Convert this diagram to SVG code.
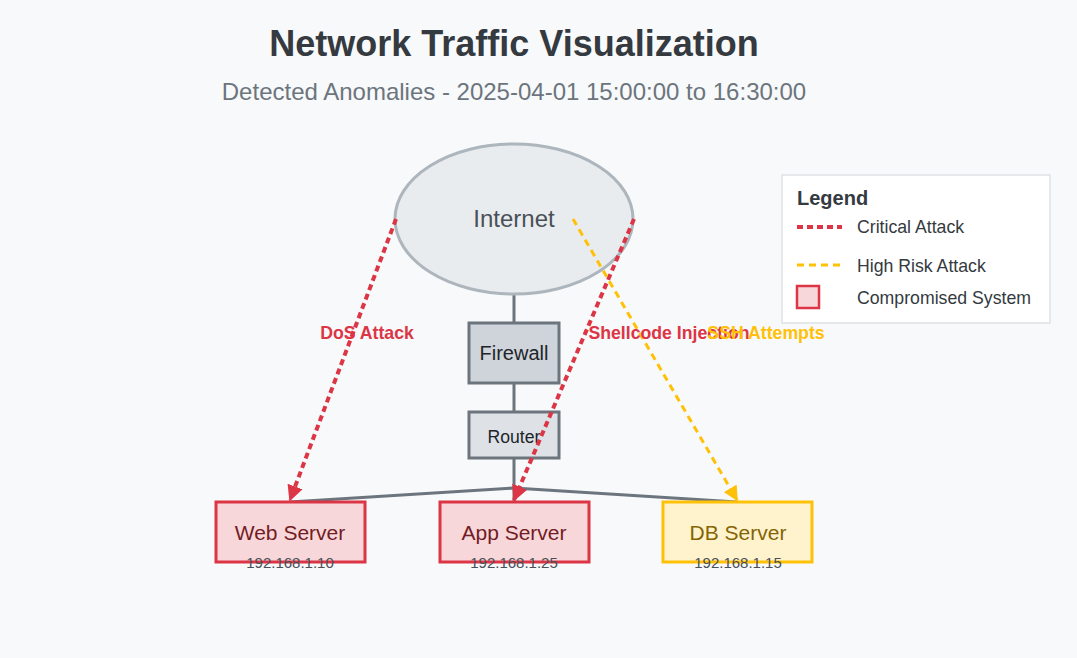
<svg xmlns="http://www.w3.org/2000/svg" width="1077" height="658" viewBox="0 0 1077 658">
<style>
text{font-family:"Liberation Sans",Arial,sans-serif}
.link{stroke:#6c757d;stroke-width:3;fill:none}
.crit{stroke:#dc3545;stroke-width:4;stroke-dasharray:6,4;fill:none}
.high{stroke:#ffc107;stroke-width:3;stroke-dasharray:7,5;fill:none}
.comp rect{fill:#f8d7da;stroke:#dc3545;stroke-width:3}
.comp .nm{fill:#721c24}
.warn rect{fill:#fff3cd;stroke:#ffc107;stroke-width:3}
.warn .nm{fill:#856404}
.nm{font-size:21px;text-anchor:middle}
.ip{font-size:15px;text-anchor:middle;fill:#495057}
.lbl{font-size:17.7px;font-weight:bold;text-anchor:middle}
.lg{font-size:17.7px;fill:#343a40}
</style>
<defs>
<marker id="arrR" viewBox="0 0 10 10" refX="9" refY="5" markerWidth="4" markerHeight="4" orient="auto" markerUnits="strokeWidth"><path d="M0,0 L10,5 L0,10 z" fill="#dc3545"/></marker>
<marker id="arrY" viewBox="0 0 10 10" refX="9" refY="5" markerWidth="5" markerHeight="5" orient="auto" markerUnits="strokeWidth"><path d="M0,0 L10,5 L0,10 z" fill="#ffc107"/></marker>
</defs>
<rect width="1077" height="658" fill="#f8f9fa"/>
<text x="514" y="56" font-size="36" font-weight="bold" fill="#343a40" text-anchor="middle">Network Traffic Visualization</text>
<text x="514" y="100" font-size="24" fill="#6c757d" text-anchor="middle">Detected Anomalies - 2025-04-01 15:00:00 to 16:30:00</text>

<g id="links">
<line class="link" x1="514" y1="294" x2="514" y2="323"/>
<line class="link" x1="514" y1="383" x2="514" y2="412"/>
<line class="link" x1="514" y1="458" x2="514" y2="488"/>
<line class="link" x1="514" y1="488" x2="290" y2="502"/>
<line class="link" x1="514" y1="488" x2="737" y2="502"/>
<line class="link" x1="514" y1="488" x2="514" y2="502"/>
</g>

<g id="internet">
<ellipse cx="514" cy="219" rx="119" ry="75" fill="#e9ecef" stroke="#adb5bd" stroke-width="3"/>
<text x="514" y="227" font-size="24" fill="#495057" text-anchor="middle">Internet</text>
</g>
<g id="firewall">
<rect x="469" y="323" width="90" height="60" fill="#ced4da" stroke="#6c757d" stroke-width="3"/>
<text x="514" y="360" font-size="20" fill="#212529" text-anchor="middle">Firewall</text>
</g>
<g id="router">
<rect x="469" y="412" width="90" height="46" fill="#dee2e6" stroke="#6c757d" stroke-width="3"/>
<text x="514" y="443" font-size="17.6" fill="#212529" text-anchor="middle">Router</text>
</g>
<g id="web-server" class="comp">
<rect x="216" y="502" width="149" height="60"/>
<text class="nm" x="290" y="540">Web Server</text>
<text class="ip" x="290" y="568">192.168.1.10</text>
</g>
<g id="app-server" class="comp">
<rect x="440" y="502" width="149" height="60"/>
<text class="nm" x="514" y="540">App Server</text>
<text class="ip" x="514" y="568">192.168.1.25</text>
</g>
<g id="db-server" class="warn">
<rect x="663" y="502" width="149" height="60"/>
<text class="nm" x="738" y="540">DB Server</text>
<text class="ip" x="738" y="568">192.168.1.15</text>
</g>

<g id="connectors">
<line class="crit" x1="396" y1="219" x2="290" y2="500" marker-end="url(#arrR)"/>
<line class="crit" x1="634" y1="219" x2="514" y2="500" marker-end="url(#arrR)"/>
<line class="high" x1="573" y1="219" x2="737" y2="500" marker-end="url(#arrY)"/>
<text class="lbl" x="367" y="339" fill="#dc3545">DoS Attack</text>
<text class="lbl" x="669" y="339" fill="#dc3545">Shellcode Injection</text>
<text class="lbl" x="766" y="339" fill="#ffc107">SSH Attempts</text>
</g>

<g id="legend">
<rect x="782" y="175" width="268" height="148" fill="#ffffff" stroke="#dee2e6" stroke-width="1.5"/>
<text x="797" y="205" font-size="20" font-weight="bold" fill="#343a40">Legend</text>
<line class="crit" x1="797" y1="227" x2="842" y2="227" stroke-dasharray="8,4"/>
<text class="lg" x="857" y="233">Critical Attack</text>
<line class="high" x1="797" y1="265" x2="842" y2="265" stroke-width="2" stroke-dasharray="7,5"/>
<text class="lg" x="857" y="272">High Risk Attack</text>
<rect x="797" y="286" width="22" height="22" fill="#f8d7da" stroke="#dc3545" stroke-width="2.5"/>
<text class="lg" x="857" y="304">Compromised System</text>
</g>
</svg>
